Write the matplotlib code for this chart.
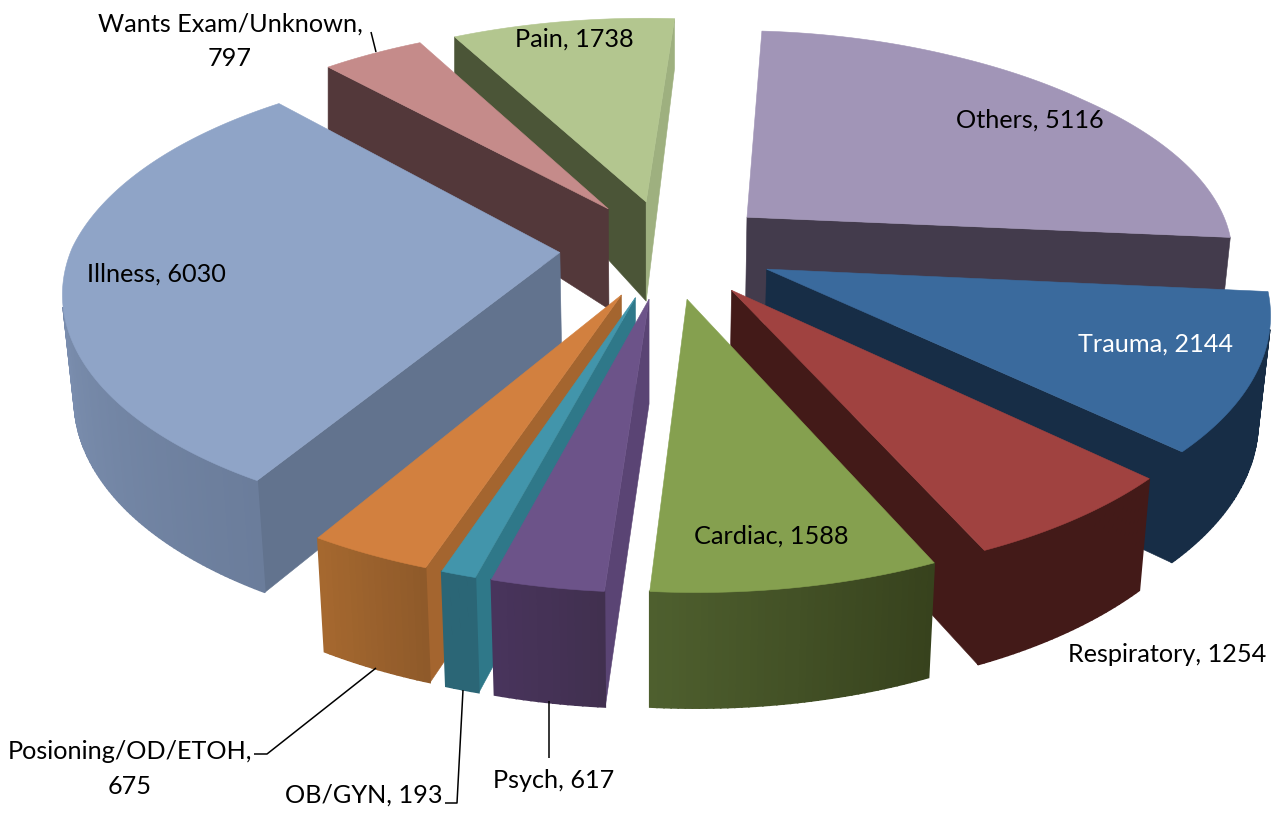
import numpy as np
import matplotlib
matplotlib.use("Agg")
import matplotlib.pyplot as plt
from matplotlib.patches import Polygon

categories = ["Others", "Trauma", "Respiratory", "Cardiac", "Psych", "OB/GYN",
              "Posioning/OD/ETOH", "Illness", "Wants Exam/Unknown", "Pain"]
values = [5116, 2144, 1254, 1588, 617, 193, 675, 6030, 797, 1738]

top_colors = ["#A195B7", "#3A6A9D", "#A04240", "#85A04F", "#6C5389", "#4295AB",
              "#D2803F", "#8FA4C7", "#C58B8A", "#B3C68F"]
start_wall = ["#433B4C", "#172D46", "#431A18", "#37421D", "#5A4474", "#2F7889",
              "#A4652F", "#62738E", "#53383A", "#4B5537"]
end_wall = ["#433B4C", "#172D46", "#431A18", "#4E5F2E", "#41304F", "#2B6676",
            "#8F5A2A", "#8FA4C7", "#53383A", "#9EB07F"]
outer_start = ["#433B4C", "#172D46", "#431A18", "#37421D", "#41304F", "#2B6676",
               "#8F5A2A", "#6B7D9B", "#53383A", "#9EB07F"]
outer_end = ["#433B4C", "#172D46", "#431A18", "#4E5F2E", "#48345C", "#2B6676",
             "#A5682F", "#8FA4C7", "#53383A", "#9EB07F"]
draw_order = [9, 8, 7, 0, 1, 2, 3, 6, 5, 4]

START_ANGLE = 4.0
EXPLODE = 0.22
CX, CY, A, B, K = 667.0, 248.0, 492.0, 228.0, 0.16
VANISH_X = 650.0
DEPTH_Y = [-1.25, -0.9, -0.6, 0.2, 0.94, 1.3]
DEPTH_PX = [116, 112, 109, 100, 62, 46]
BACK_Y = [0, 0.75, 1.0, 1.25]
BACK_PX = [0, 5, 4, 2]


def top_point(x, y):
    w = 1 + K * y
    back = np.clip(y, 0, 1) ** 2
    front = max(-y, 0)
    left, right = max(-x, 0), max(x, 0)
    sx = (CX + A * x / w + left * 4 - right * 4
          + front * (6 + 3 * left - 7 * right) - (3 + 6 * left) * back)
    sy = CY - B * y / w + np.interp(y, BACK_Y, BACK_PX)
    return sx, sy


def depth(y):
    return np.interp(y, DEPTH_Y, DEPTH_PX)


def bottom_point(x, y):
    sx, sy = top_point(x, y)
    shrink = np.interp(y, [0.0, 0.9], [0.98, 1.0])
    return VANISH_X + (sx - VANISH_X) * shrink, sy + depth(y)


def shoelace(pts):
    p = np.array(pts)
    q = np.roll(p, -1, axis=0)
    return np.sum(p[:, 0] * q[:, 1] - q[:, 0] * p[:, 1])


def mix(c1, c2, t):
    a, b = np.array(matplotlib.colors.to_rgb(c1)), np.array(matplotlib.colors.to_rgb(c2))
    return tuple(a + (b - a) * t)


fig = plt.figure(figsize=(12.77, 8.15), dpi=100, facecolor="white")
ax = fig.add_axes([0, 0, 1, 1])
ax.set_xlim(0, 1277)
ax.set_ylim(815, 0)
ax.axis("off")


def quad(p1, p2, color, z, lw=0.4):
    """Draw the wall below top edge p1-p2 when it faces the viewer."""
    pts = [top_point(*p1), top_point(*p2), bottom_point(*p2), bottom_point(*p1)]
    if shoelace(pts) < 0:
        ax.add_patch(Polygon(pts, closed=True, facecolor=color, edgecolor=color,
                             linewidth=lw, zorder=z))


total = float(sum(values))
sweeps = 360.0 * np.array(values) / total
starts = START_ANGLE + np.concatenate([[0], np.cumsum(sweeps)[:-1]])

for rank, i in enumerate(draw_order):
    t0 = np.radians(starts[i])
    t1 = np.radians(starts[i] + sweeps[i])
    mid = (t0 + t1) / 2
    ox, oy = EXPLODE * np.sin(mid), EXPLODE * np.cos(mid)
    thetas = np.linspace(t0, t1, max(int(sweeps[i] * 1.5), 4))
    rim = [(ox + np.sin(t), oy + np.cos(t)) for t in thetas]
    apex = (ox, oy)
    z = 10 + rank
    quad(apex, rim[0], start_wall[i], z)
    quad(rim[-1], apex, end_wall[i], z)
    for j in range(len(rim) - 1):
        quad(rim[j], rim[j + 1], mix(outer_start[i], outer_end[i], j / (len(rim) - 2)), z, lw=1.2)
    face = [top_point(*apex)] + [top_point(*p) for p in rim]
    ax.add_patch(Polygon(face, closed=True, facecolor=top_colors[i],
                         edgecolor=top_colors[i], linewidth=0.4, zorder=z + 0.5))

FONT = dict(family="Lato", fontsize=18.2, ha="center", va="center", zorder=50)
label_pos = {
    "Others": (1030, 120, "black"), "Trauma": (1155, 344, "white"),
    "Respiratory": (1167, 654, "black"), "Cardiac": (771, 536, "black"),
    "Psych": (554, 780, "black"), "OB/GYN": (364, 795, "black"),
    "Illness": (156, 274, "black"), "Pain": (574, 39, "black"),
}
for name, val in zip(categories, values):
    if name in label_pos:
        x, y, c = label_pos[name]
        ax.text(x, y, f"{name}, {val}", color=c, **FONT)
ax.text(230, 41, f"Wants Exam/Unknown,\n{values[8]}", linespacing=1.62, **FONT)
ax.text(130, 769, f"Posioning/OD/ETOH,\n{values[6]}", linespacing=1.62, **FONT)

leaders = [([371, 376], [32, 52]),
           ([254, 267, 376], [754, 754, 668]),
           ([445, 457, 463], [803, 803, 690]),
           ([549, 549], [701, 758])]
for xs, ys in leaders:
    ax.plot(xs, ys, color="black", lw=1.1, zorder=40, solid_capstyle="butt")

fig.savefig("out.png", dpi=100)
